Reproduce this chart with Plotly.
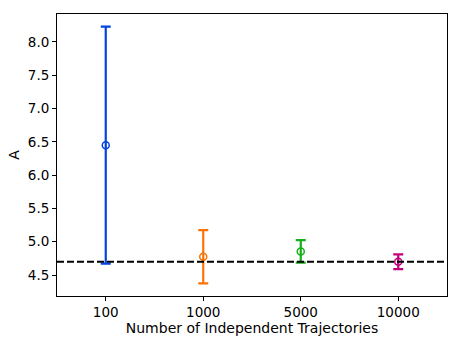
import plotly.graph_objects as go

categories = ["100", "1000", "5000", "10000"]
means = [6.45, 4.775, 4.855, 4.70]
errors = [1.78, 0.40, 0.17, 0.11]
colors = ["#0343df", "#f97306", "#15b01a", "#c20078"]
reference_value = 4.70

fig = go.Figure()
for cat, m, e, c in zip(categories, means, errors, colors):
    fig.add_trace(go.Scatter(
        x=[cat], y=[m], mode="markers",
        marker=dict(symbol="circle-open", size=7, color=c, line=dict(width=1.5, color=c)),
        error_y=dict(type="data", array=[e], visible=True, color=c, thickness=2.2, width=5),
        showlegend=False,
    ))

fig.add_shape(type="line", xref="paper", x0=0, x1=1, yref="y", y0=reference_value, y1=reference_value,
              line=dict(color="black", width=2, dash="7px,3px"))

fig.update_layout(
    width=461, height=346,
    margin=dict(l=57, r=14, t=14, b=50),
    paper_bgcolor="white", plot_bgcolor="white",
    font=dict(family="DejaVu Sans", size=13.5, color="black"),
    xaxis=dict(type="category", categoryorder="array", categoryarray=categories,
               range=[-0.5, 3.5], showgrid=False, zeroline=False, automargin=False,
               showline=True, linecolor="black", linewidth=1, mirror=True,
               ticks="outside", ticklen=4, tickcolor="black",
               title=dict(text="Number of Independent Trajectories", standoff=3,
                          font=dict(size=14))),
    yaxis=dict(range=[4.185, 8.42], tickvals=[4.5, 5.0, 5.5, 6.0, 6.5, 7.0, 7.5, 8.0],
               ticktext=["4.5", "5.0", "5.5", "6.0", "6.5", "7.0", "7.5", "8.0"],
               showgrid=False, zeroline=False, automargin=False,
               showline=True, linecolor="black", linewidth=1, mirror=True,
               ticks="outside", ticklen=4, tickcolor="black",
               title=dict(text="A", standoff=4, font=dict(size=14))),
)

fig.write_html("out.html", config={"displayModeBar": False},
               post_script="document.body.style.margin='0';document.body.style.overflow='hidden';")
